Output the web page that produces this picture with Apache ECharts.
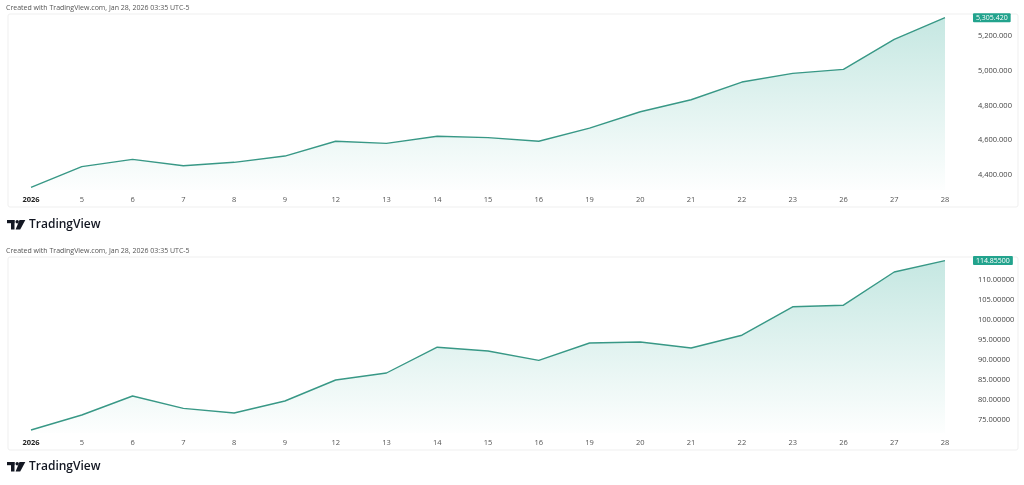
<!DOCTYPE html>
<html>
<head>
<meta charset="utf-8">
<script src="https://cdn.jsdelivr.net/npm/echarts@6/dist/echarts.min.js"></script>
<style>
html,body{margin:0;padding:0;background:#fff;}
#c{width:1024px;height:485px;}
</style>
</head>
<body>
<div id="c"></div>
<script>
const categories = ['2026','5','6','7','8','9','12','13','14','15','16','19','20','21','22','23','26','27','28'];
const goldValues = [4329, 4448, 4490, 4453, 4473, 4509, 4594, 4582, 4623, 4615, 4594, 4670, 4764, 4833, 4935, 4985, 5008, 5181, 5305.42];
const silverValues = [72.5, 76.25, 81.0, 77.9, 76.75, 79.75, 85.0, 86.75, 93.2, 92.25, 89.9, 94.25, 94.5, 93.0, 96.2, 103.3, 103.7, 112.0, 114.855];
const goldTicks = [4400, 4600, 4800, 5000, 5200];
const silverTicks = [75, 80, 85, 90, 95, 100, 105, 110];
const headerText = 'Created with TradingView.com, Jan 28, 2026 03:35 UTC-5';

const FONT = '"Open Sans", "DejaVu Sans", sans-serif';
const LINE = '#389886';
const LABELBG = '#22a38d';

const fmtGold = v => v.toLocaleString('en-US', {minimumFractionDigits: 3, maximumFractionDigits: 3});
const fmtSilver = v => v.toFixed(5);

function xAxis(gi) {
  return {
    type: 'category', gridIndex: gi, data: categories, boundaryGap: false,
    axisLine: {show: false}, axisTick: {show: false}, splitLine: {show: false},
    axisLabel: {
      interval: 0, margin: 6, fontSize: 7.5, fontFamily: FONT, color: '#555',
      formatter: (v, i) => i === 0 ? '{b|' + v + '}' : v,
      rich: {b: {fontSize: 7.5, fontWeight: 'bold', color: '#222', fontFamily: FONT}}
    }
  };
}
function yAxis(gi, min, max, ticks, fmt) {
  return {
    type: 'value', gridIndex: gi, position: 'right', min: min, max: max, scale: true,
    axisLine: {show: false}, axisTick: {show: false}, splitLine: {show: false},
    axisLabel: {
      customValues: ticks, margin: 33, fontSize: 7.5, fontFamily: FONT, color: '#444',
      formatter: v => fmt(v)
    }
  };
}
function areaSeries(i, data, fmt) {
  return {
    type: 'line', xAxisIndex: i, yAxisIndex: i, data: data, symbol: 'none', smooth: false,
    lineStyle: {color: LINE, width: 1.4},
    areaStyle: {
      origin: 'start',
      color: new echarts.graphic.LinearGradient(0, 0, 0, 1, [
        {offset: 0, color: 'rgba(38,166,145,0.38)'},
        {offset: 1, color: 'rgba(38,166,145,0.01)'}
      ])
    },
    endLabel: {
      show: true, formatter: p => fmt(p.value), distance: 28,
      backgroundColor: LABELBG, color: '#fff', fontSize: 7, fontFamily: FONT,
      padding: [1, 3, 1, 3], borderRadius: 1
    },
    silent: true, animation: false
  };
}

function logo(y) {
  return {
    type: 'group', left: 7, top: y,
    children: [
      {type: 'rect', shape: {x: 0, y: 0, width: 7.5, height: 3.2}, style: {fill: '#131722'}},
      {type: 'rect', shape: {x: 4, y: 0, width: 3.5, height: 9.5}, style: {fill: '#131722'}},
      {type: 'circle', shape: {cx: 10.2, cy: 1.7, r: 1.7}, style: {fill: '#131722'}},
      {type: 'polygon', shape: {points: [[12.5, 0], [18.3, 0], [13.2, 9.5], [8.6, 9.5]]}, style: {fill: '#131722'}},
      {type: 'text', style: {x: 22, y: 5, text: 'TradingView', fontSize: 12, fontWeight: 600, fontFamily: FONT, fill: '#131722', verticalAlign: 'middle'}}
    ]
  };
}

const chart = echarts.init(document.getElementById('c'), null, {renderer: 'canvas'});
chart.setOption({
  backgroundColor: '#ffffff',
  animation: false,
  grid: [
    {left: 31, right: 79, top: 14, height: 176},
    {left: 31, right: 79, top: 257, height: 176}
  ],
  xAxis: [xAxis(0), xAxis(1)],
  yAxis: [
    yAxis(0, 4313.7, 5326.6, goldTicks, fmtGold),
    yAxis(1, 71.75, 115.75, silverTicks, fmtSilver)
  ],
  series: [areaSeries(0, goldValues, fmtGold), areaSeries(1, silverValues, fmtSilver)],
  graphic: [
    {type: 'rect', z: -10, shape: {x: 8, y: 14, width: 1010, height: 193, r: 2}, style: {fill: 'none', stroke: '#efefef', lineWidth: 1}},
    {type: 'rect', z: -10, shape: {x: 8, y: 257, width: 1010, height: 193, r: 2}, style: {fill: 'none', stroke: '#efefef', lineWidth: 1}},
    {type: 'text', left: 6, top: 4, style: {text: headerText, fontSize: 7, fontFamily: FONT, fill: '#555'}},
    {type: 'text', left: 6, top: 247, style: {text: headerText, fontSize: 7, fontFamily: FONT, fill: '#555'}},
    logo(219),
    logo(461)
  ]
});
</script>
</body>
</html>
